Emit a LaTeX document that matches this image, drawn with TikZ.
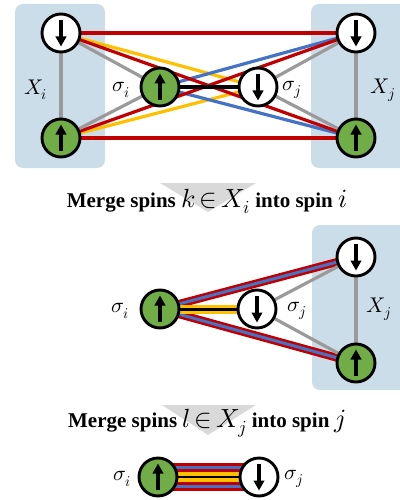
\documentclass[tikz,border=0pt]{standalone}
\usepackage{fontspec}
\usepackage{unicode-math}
\setmainfont{Liberation Serif}
\setmathfont{Latin Modern Math}[Scale=1.25]
\usetikzlibrary{arrows.meta}
\definecolor{spingreen}{HTML}{70AD47}
\definecolor{boxblue}{HTML}{CCDDEA}
\definecolor{cred}{HTML}{C00000}
\definecolor{cyellow}{HTML}{FFC000}
\definecolor{cblue}{HTML}{4472C4}
\definecolor{cgray}{HTML}{9A9A9A}
\definecolor{trigray}{HTML}{D9D9D9}
\pgfdeclarelayer{bg}
\pgfdeclarelayer{edges}
\pgfsetlayers{bg,edges,main}
\tikzset{
  spin/.style={circle, draw=black, line width=2.9pt, minimum size=38pt, inner sep=0pt},
  upspin/.style={spin, fill=spingreen},
  downspin/.style={spin, fill=white},
  spinarrow/.style={line width=3.2pt, -{Triangle[length=10pt,width=10.5pt]}},
  cluster/.style={fill=boxblue, rounded corners=8pt},
  grayedge/.style={cgray, line width=3.2pt},
  rededge/.style={cred, line width=3.2pt},
  yellowedge/.style={cyellow, line width=3.2pt},
  blueedge/.style={cblue, line width=3.2pt},
  blackedge/.style={black, line width=3.5pt},
  lbl/.style={font=\fontsize{17}{20}\selectfont},
  caption/.style={font=\bfseries\fontsize{21}{24}\selectfont,
    execute at begin node={\thickmuskip=3mu\relax},
    anchor=base, inner sep=0pt},
  mergetri/.style={fill=trigray}
}
\newcommand{\uparr}[1]{\draw[spinarrow] ([yshift=-13pt]#1.center) -- ([yshift=13.5pt]#1.center);}
\newcommand{\downarr}[1]{\draw[spinarrow] ([yshift=13pt]#1.center) -- ([yshift=-13.5pt]#1.center);}
\begin{document}
\begin{tikzpicture}[x=1pt,y=-1pt]
\useasboundingbox (0,0) rectangle (399,500);

% ---------- top: two clusters and the pair of spins ----------
\node[downspin] (lt) at (61,33) {};
\node[upspin]   (lb) at (61,138) {};
\node[upspin]   (si) at (160,87) {};
\node[downspin] (sj) at (258,87) {};
\node[downspin] (rt) at (356,33) {};
\node[upspin]   (rb) at (356,138) {};
\uparr{si} \downarr{sj} \downarr{lt} \uparr{lb} \downarr{rt} \uparr{rb}

\node[lbl] (xi) at (36,90) {$X_i$};
\node[lbl] (sil) at (121,90) {$\sigma_i$};
\node[lbl] (sjl) at (292,90) {$\sigma_j$};
\node[lbl] (xj) at (383,90) {$X_j$};

\begin{pgfonlayer}{bg}
  \fill[cluster] (15,4) rectangle (105,168);
  \fill[cluster] (311,4) rectangle (410,168);
\end{pgfonlayer}
\begin{pgfonlayer}{edges}
  \draw[rededge] (lt.center) -- (rt.center);
  \draw[rededge] (lb.center) -- (rb.center);
  \draw[yellowedge] (lt.center) -- (sj.center);
  \draw[yellowedge] (lb.center) -- (sj.center);
  \draw[blueedge] (si.center) -- (rt.center);
  \draw[blueedge] (si.center) -- (rb.center);
  \draw[rededge] (lt.center) -- (rb.center);
  \draw[rededge] (lb.center) -- (rt.center);
  \draw[grayedge] (lt.center) -- (lb.center);
  \draw[grayedge] (lt.center) -- (si.center);
  \draw[grayedge] (lb.center) -- (si.center);
  \draw[grayedge] (rt.center) -- (rb.center);
  \draw[grayedge] (rt.center) -- (sj.center);
  \draw[grayedge] (rb.center) -- (sj.center);
  \draw[blackedge] (si.center) -- (sj.center);
\end{pgfonlayer}

% ---------- first merge step ----------
\fill[mergetri] (160,183) -- (256,183) -- (208,212) -- cycle;
\node[caption] (m1) at (207,207) {Merge spins $k\in X_i$ into spin $i$};

% ---------- middle: spin i merged with cluster i ----------
\node[upspin]   (si2) at (160,309) {};
\node[downspin] (sj2) at (257,309) {};
\node[downspin] (rt2) at (356,257) {};
\node[upspin]   (rb2) at (356,363) {};
\uparr{si2} \downarr{sj2} \downarr{rt2} \uparr{rb2}

\node[lbl] (sil2) at (120,311) {$\sigma_i$};
\node[lbl] (sjl2) at (297,311) {$\sigma_j$};
\node[lbl] (xj2) at (379,309) {$X_j$};

\begin{pgfonlayer}{bg}
  \fill[cluster] (312,225) rectangle (410,390);
\end{pgfonlayer}
\begin{pgfonlayer}{edges}
  \draw[cred, line width=8pt] (si2.center) -- (rt2.center);
  \draw[cblue, line width=3pt] (si2.center) -- (rt2.center);
  \draw[cred, line width=8pt] (si2.center) -- (rb2.center);
  \draw[cblue, line width=3pt] (si2.center) -- (rb2.center);
  \draw[cyellow, line width=9pt] (si2.center) -- (sj2.center);
  \draw[black, line width=3pt] (si2.center) -- (sj2.center);
  \draw[grayedge] (rt2.center) -- (rb2.center);
  \draw[grayedge] (rt2.center) -- (sj2.center);
  \draw[grayedge] (rb2.center) -- (sj2.center);
\end{pgfonlayer}

% ---------- second merge step ----------
\fill[mergetri] (162,405) -- (256,405) -- (208,435) -- cycle;
\node[caption] (m2) at (207,427) {Merge spins $l\in X_j$ into spin $j$};

% ---------- bottom: the two merged spins ----------
\node[upspin]   (si3) at (158,477) {};
\node[downspin] (sj3) at (259,477) {};
\uparr{si3} \downarr{sj3}
\node[lbl] (sil3) at (122,479) {$\sigma_i$};
\node[lbl] (sjl3) at (294,479) {$\sigma_j$};

\begin{pgfonlayer}{edges}
  \draw[cred, line width=9.6pt] ([yshift=9.6pt]si3.center) -- ([yshift=9.6pt]sj3.center);
  \draw[cblue, line width=3.3pt] ([yshift=9.6pt]si3.center) -- ([yshift=9.6pt]sj3.center);
  \draw[cyellow, line width=9.6pt] (si3.center) -- (sj3.center);
  \draw[black, line width=2.6pt] (si3.center) -- (sj3.center);
  \draw[cred, line width=9.6pt] ([yshift=-9.6pt]si3.center) -- ([yshift=-9.6pt]sj3.center);
  \draw[cblue, line width=3.3pt] ([yshift=-9.6pt]si3.center) -- ([yshift=-9.6pt]sj3.center);
\end{pgfonlayer}
\end{tikzpicture}
\end{document}
